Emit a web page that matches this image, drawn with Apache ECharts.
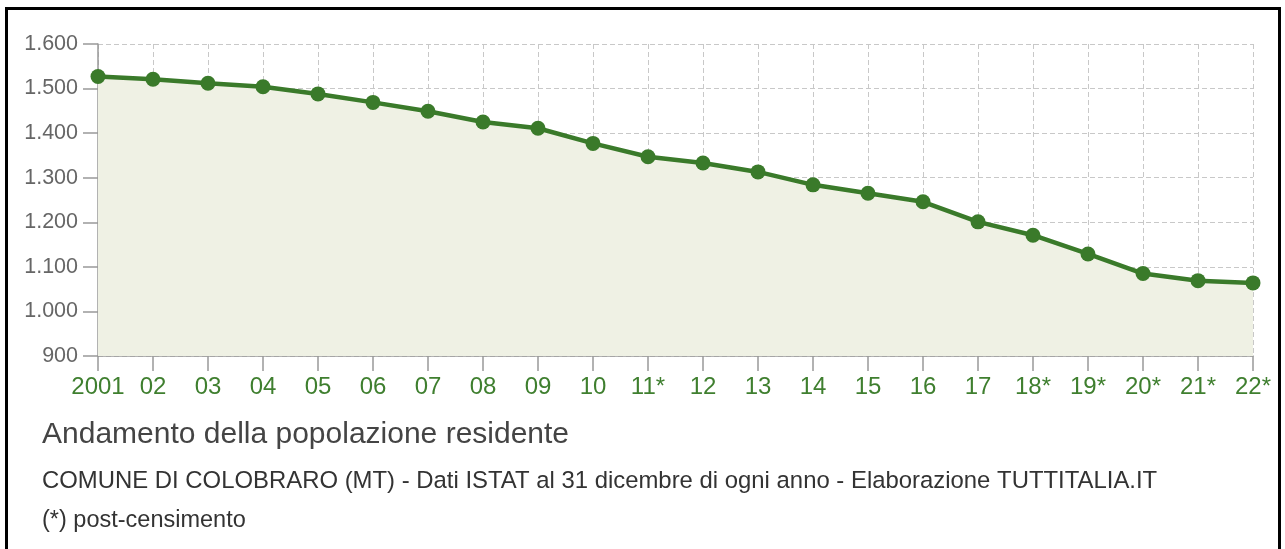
<!DOCTYPE html>
<html>
<head>
<meta charset="utf-8">
<script src="https://cdn.jsdelivr.net/npm/echarts@6/dist/echarts.min.js"></script>
<style>
html,body{margin:0;padding:0;background:#fff;}
#chart{width:1285px;height:549px;}
</style>
</head>
<body>
<div id="chart"></div>
<script>
var categories = ['2001','02','03','04','05','06','07','08','09','10','11*','12','13','14','15','16','17','18*','19*','20*','21*','22*'];
var population = [1527,1521,1512,1504,1488,1469,1449,1425,1411,1377,1347,1333,1313,1284,1265,1246,1201,1171,1129,1085,1069,1064];
var yTicks = {min: 900, max: 1600, interval: 100};
var titleText = 'Andamento della popolazione residente';
var subtitleText = 'COMUNE DI COLOBRARO (MT) - Dati ISTAT al 31 dicembre di ogni anno - Elaborazione TUTTITALIA.IT';
var noteText = '(*) post-censimento';

var chart = echarts.init(document.getElementById('chart'), null, {renderer: 'canvas'});
var FONT = '"Liberation Sans", Arial, Helvetica, sans-serif';
chart.setOption({
  animation: false,
  backgroundColor: '#fff',
  grid: {left: 98, right: 32, top: 44, bottom: 193, containLabel: false},
  xAxis: {
    type: 'category',
    data: categories,
    boundaryGap: false,
    axisLine: {show: true, lineStyle: {color: '#999', width: 1.5}},
    axisTick: {show: true, length: 15, alignWithLabel: true, lineStyle: {color: '#999', width: 1.5}},
    axisLabel: {color: '#3f7f2f', fontSize: 24, fontFamily: FONT, margin: 19, interval: 0},
    splitLine: {show: true, lineStyle: {color: '#c8c8c8', type: [5, 3], width: 1}}
  },
  yAxis: {
    type: 'value',
    min: yTicks.min, max: yTicks.max, interval: yTicks.interval,
    axisLine: {show: true, lineStyle: {color: '#999', width: 1.5}},
    axisTick: {show: true, length: 15, lineStyle: {color: '#999', width: 1.5}},
    axisLabel: {color: '#666', fontSize: 21.5, fontFamily: FONT, margin: 20,
      formatter: function(v){ return String(v).replace(/\B(?=(\d{3})+(?!\d))/g, '.'); }},
    splitLine: {show: true, lineStyle: {color: '#c8c8c8', type: [5, 3], width: 1}}
  },
  series: [{
    type: 'line',
    data: population,
    symbol: 'circle',
    symbolSize: 15,
    lineStyle: {color: '#3a7a2a', width: 4.5},
    itemStyle: {color: '#3a7a2a'},
    areaStyle: {color: '#eff1e4', origin: 'start', opacity: 1},
    z: 3
  }],
  graphic: [
    {type: 'rect', shape: {x: 6.5, y: 8.5, width: 1273, height: 600}, style: {fill: 'none', stroke: '#000', lineWidth: 3}, silent: true},
    {type: 'text', left: 42, top: 420, style: {text: titleText, fill: '#444', font: '30px ' + FONT}},
    {type: 'text', left: 42, top: 469, style: {text: subtitleText, fill: '#333', font: '23.9px ' + FONT}},
    {type: 'text', left: 42, top: 509, style: {text: noteText, fill: '#333', font: '23.5px ' + FONT}}
  ]
});
</script>
</body>
</html>
